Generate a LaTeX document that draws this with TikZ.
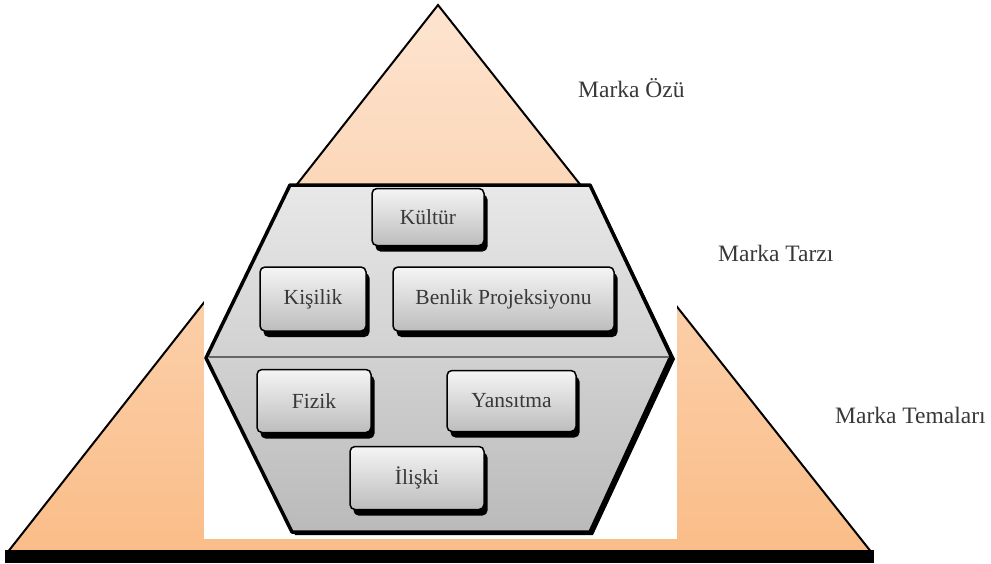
\documentclass[tikz,border=0pt]{standalone}
\usepackage{fontspec}
\setmainfont{Liberation Serif}
\usetikzlibrary{shadows}
\definecolor{peachtop}{HTML}{FDE4D0}
\definecolor{peachbot}{HTML}{FABD88}
\definecolor{txt}{HTML}{383838}
\begin{document}
\begin{tikzpicture}[x=1pt,y=-1pt,
  boxnode/.style={draw=black, line width=1.5pt, rounded corners=5pt,
    top color=black!4, bottom color=black!26,
    drop shadow={shadow xshift=3.5pt, shadow yshift=-6pt, opacity=1, fill=black},
    font=\fontsize{21.5}{24}\selectfont, text=txt, inner sep=0pt},
  lbl/.style={anchor=base west, font=\fontsize{23.5}{27}\selectfont, text=txt, inner sep=0pt},
  edge/.style={line width=2pt, line join=miter}]
\useasboundingbox (0,0) rectangle (991,563);
% pyramid
\path[top color=peachtop, bottom color=peachbot] (438,5) -- (872,553) -- (7,553) -- cycle;
\draw[edge] (7,553) -- (438,5) -- (872,553);
\fill[white] (204,185) rectangle (677,539);
\fill[black] (5,550) rectangle (874,563);
% hexagon
\fill[black] (293,188) -- (593,188) -- (675,359) -- (593,535) -- (295,535) -- (209,361) -- cycle;
\draw[line width=3.5pt, line join=round, top color=black!9, bottom color=black!27]
  (290,185) -- (590,185) -- (671,356) -- (590,532) -- (292,532) -- (206,358) -- cycle;
\draw[black!60, line width=1.5pt] (209,357) -- (669,357);
% boxes
\node[boxnode, minimum width=112pt, minimum height=57pt] (kultur) at (428,217) {Kültür};
\node[boxnode, minimum width=106pt, minimum height=64pt] (kisilik) at (313,299) {Kişilik};
\node[boxnode, minimum width=221pt, minimum height=64pt] (benlik) at (503.5,299) {Benlik Projeksiyonu};
\node[boxnode, minimum width=114pt, minimum height=63pt] (fizik) at (314,401) {Fizik};
\node[boxnode, minimum width=129pt, minimum height=61pt] (yansitma) at (511.5,401) {Yansıtma};
\node[boxnode, minimum width=134pt, minimum height=63pt] (iliski) at (417,478) {İlişki};
% labels
\node[lbl] (oz) at (578,97) {Marka Özü};
\node[lbl] (tarz) at (718,261) {Marka Tarzı};
\node[lbl] (tema) at (835,423) {Marka Temaları};
\end{tikzpicture}
\end{document}
